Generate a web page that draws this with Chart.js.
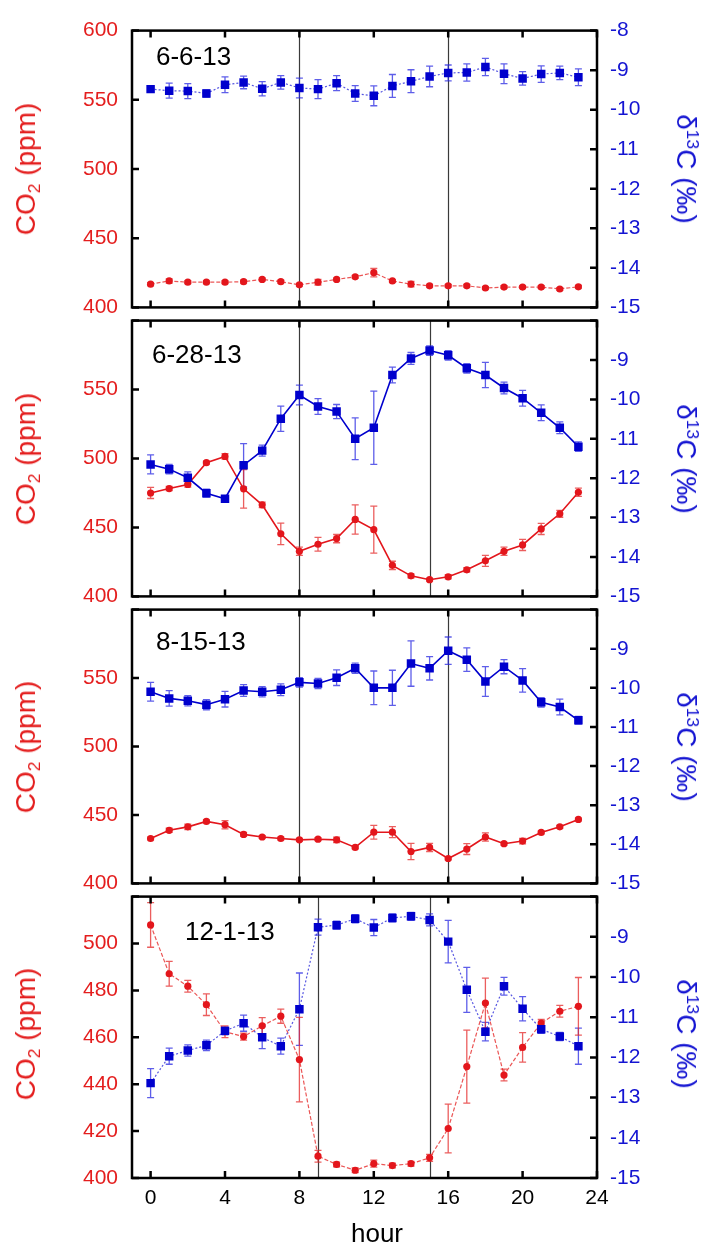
<!DOCTYPE html>
<html><head><meta charset="utf-8">
<script src="https://cdn.jsdelivr.net/npm/chart.js@4.4.1/dist/chart.umd.min.js"></script>
<style>
html,body{margin:0;padding:0;background:#fff}
#wrap{position:relative;width:713px;height:1249px;overflow:hidden;font-family:"Liberation Sans",Arial,sans-serif}
canvas{position:absolute;left:0}
.t{position:absolute;white-space:nowrap;line-height:1}
.ylab{color:#e41e1e;font-size:28px;transform:translate(-50%,-50%) rotate(-90deg)}
.rlab{color:#1414d2;font-size:28px;transform:translate(-50%,-50%) rotate(90deg)}
.sub{font-size:0.62em;position:relative;top:0.3em}
.sup{font-size:0.62em;position:relative;top:-0.6em}
.plab{font-size:26px;color:#000}
.xlab{font-size:26px;color:#000;transform:translate(-50%,0)}
</style></head><body><div id="wrap"></div>
<script>
// ---------------- DATA ----------------
const HOURS = [0,1,2,3,4,5,6,7,8,9,10,11,12,13,14,15,16,17,18,19,20,21,22,23];
const X_TICKS = [0,4,8,12,16,20,24];
const PANEL_LABELS = ['6-6-13','6-28-13','8-15-13','12-1-13'];

// 6-6-13
const co2_0606     = [416.8,419.1,418.2,418.2,418.2,418.6,420.2,418.6,416.3,418.2,420.2,422.1,425.1,419.1,416.8,415.6,415.6,415.6,414.0,414.7,414.7,414.7,413.3,414.9];
const co2Err_0606  = [1,1.5,1,1,1,1,1,1,1,2,1,1,3,1,2,1,1,1,1,1,1,1,1,1];
const d13c_0606    = [-9.48,-9.52,-9.53,-9.59,-9.37,-9.31,-9.47,-9.31,-9.45,-9.48,-9.33,-9.59,-9.65,-9.40,-9.28,-9.16,-9.07,-9.06,-8.92,-9.09,-9.21,-9.10,-9.07,-9.18];
const d13cErr_0606 = [0.05,0.19,0.19,0.09,0.2,0.16,0.18,0.17,0.25,0.24,0.19,0.2,0.25,0.29,0.29,0.26,0.2,0.22,0.22,0.25,0.17,0.21,0.17,0.21];

// 6-28-13
const co2_0628     = [475.0,478.2,481.2,497.0,501.5,478.0,466.4,445.4,432.7,437.8,441.9,455.8,448.4,422.5,414.9,412.1,414.2,419.3,425.8,432.7,437.3,448.9,459.9,475.5];
const co2Err_0628  = [4,1.5,2,1,2,14,2,7.8,3,5,3,10.6,17,3,1.5,1,1.5,1.5,4,3,4,4,2.5,3];
const d13c_0628    = [-11.65,-11.77,-11.99,-12.38,-12.52,-11.67,-11.30,-10.49,-9.89,-10.18,-10.31,-11.00,-10.72,-9.38,-8.96,-8.76,-8.88,-9.21,-9.38,-9.71,-9.97,-10.34,-10.72,-11.20];
const d13cErr_0628 = [0.24,0.12,0.15,0.1,0.06,0.55,0.14,0.32,0.25,0.2,0.18,0.53,0.93,0.2,0.15,0.12,0.12,0.12,0.32,0.15,0.2,0.2,0.15,0.12];

// 8-15-13
const co2_0815     = [432.8,438.8,441.3,445.3,442.9,435.8,433.9,432.8,431.8,432.3,431.8,426.3,437.4,437.4,423.3,426.3,418.2,425.1,433.9,429.0,430.9,437.2,441.3,446.7];
const co2Err_0815  = [1,1.5,2,1,3,1.5,1,1,1,1,2,1,5,4,6,3,1,4,3,1,2,1,1,1];
const d13c_0815    = [-10.10,-10.27,-10.33,-10.43,-10.29,-10.07,-10.10,-10.05,-9.86,-9.89,-9.74,-9.50,-10.0,-10.0,-9.38,-9.50,-9.05,-9.28,-9.84,-9.46,-9.81,-10.37,-10.49,-10.83];
const d13cErr_0815 = [0.24,0.2,0.13,0.13,0.2,0.15,0.13,0.15,0.12,0.13,0.2,0.13,0.43,0.45,0.58,0.3,0.35,0.3,0.38,0.18,0.3,0.12,0.2,0.1];

// 12-1-13
const co2_1201     = [507.9,487.1,481.8,473.9,462.4,460.3,464.9,469.0,450.5,409.3,405.8,403.3,406.1,405.3,406.1,408.6,421.1,447.5,474.6,443.9,455.7,466.1,471.1,473.2];
const co2Err_1201  = [9.5,5.3,2.5,4.6,2.5,1.5,3.5,3,18,2.5,1,1,1.5,1,1,1.5,10.4,15.6,10.6,2.5,6.3,1.5,2.5,12.3];
const d13c_1201    = [-12.64,-11.97,-11.83,-11.70,-11.34,-11.15,-11.50,-11.72,-10.80,-8.76,-8.71,-8.55,-8.77,-8.53,-8.49,-8.58,-9.12,-10.32,-11.36,-10.23,-10.79,-11.30,-11.48,-11.72];
const d13cErr_1201 = [0.36,0.2,0.14,0.13,0.1,0.2,0.28,0.2,0.9,0.2,0.1,0.1,0.2,0.1,0.1,0.15,0.53,0.56,0.23,0.22,0.3,0.1,0.1,0.45];

// vertical marker hours per panel
const vlines_0606 = [8,16];
const vlines_0628 = [8,15];
const vlines_0815 = [8,16];
const vlines_1201 = [9,15];

// axis ranges & ticks
const CO2_TICKS_A = [400,450,500,550,600];
const CO2_TICKS_B = [400,420,440,460,480,500,520];
const D13C_TICKS  = [-15,-14,-13,-12,-11,-10,-9,-8];

// ---------------- LAYOUT / STYLE ----------------
const W = 713, PLOT_L = 132, PLOT_R = 597;
const PANEL_Y = [[24,314],[314,603],[603,890],[890,1178]];
const FONT = '"Liberation Sans", Arial, sans-serif';
const RED = '#e3161c', BLUE = '#0000cd';
const RED_TXT = '#e41e1e', BLUE_TXT = '#1414d2';
const TICK_SIZE = 21;

const panels = [
  {co2:co2_0606, co2Err:co2Err_0606, d13:d13c_0606, d13Err:d13cErr_0606, vl:vlines_0606, co2Ticks:CO2_TICKS_A, style:'dash', lab:[156,43]},
  {co2:co2_0628, co2Err:co2Err_0628, d13:d13c_0628, d13Err:d13cErr_0628, vl:vlines_0628, co2Ticks:CO2_TICKS_A, style:'solid', lab:[152,341]},
  {co2:co2_0815, co2Err:co2Err_0815, d13:d13c_0815, d13Err:d13cErr_0815, vl:vlines_0815, co2Ticks:CO2_TICKS_A, style:'solid', lab:[156,628]},
  {co2:co2_1201, co2Err:co2Err_1201, d13:d13c_1201, d13Err:d13cErr_1201, vl:vlines_1201, co2Ticks:CO2_TICKS_B, style:'dash', lab:[185,918]}
];

const panelDecor = {
  id:'panelDecor',
  beforeDatasetsDraw(chart, args, opts){
    const ctx = chart.ctx, {top,bottom} = chart.chartArea, xs = chart.scales.x;
    ctx.save();
    ctx.strokeStyle = '#3a3a3a'; ctx.lineWidth = 1.2;
    (opts.vlines||[]).forEach(h=>{
      const x = Math.round(xs.getPixelForValue(h))+0.5;
      ctx.beginPath(); ctx.moveTo(x,top); ctx.lineTo(x,bottom); ctx.stroke();
    });
    chart.data.datasets.forEach(ds=>{
      const ys = chart.scales[ds.yAxisID];
      ctx.strokeStyle = ds.errColor; ctx.lineWidth = 1.3;
      ds.data.forEach((p,i)=>{
        const e = ds.errorBars[i];
        const x = xs.getPixelForValue(p.x);
        const y1 = ys.getPixelForValue(p.y - e), y2 = ys.getPixelForValue(p.y + e);
        ctx.beginPath();
        ctx.moveTo(x,y1); ctx.lineTo(x,y2);
        ctx.moveTo(x-3.5,y1); ctx.lineTo(x+3.5,y1);
        ctx.moveTo(x-3.5,y2); ctx.lineTo(x+3.5,y2);
        ctx.stroke();
      });
    });
    ctx.restore();
  },
  afterDatasetsDraw(chart){
    const ctx = chart.ctx, {left,right,top,bottom} = chart.chartArea;
    const xs = chart.scales.x, yl = chart.scales.yL, yr = chart.scales.yR;
    ctx.save();
    ctx.strokeStyle = '#000'; ctx.lineWidth = 2.5;
    ctx.strokeRect(left, top, right-left, bottom-top);
    ctx.beginPath();
    xs.ticks.forEach(t=>{
      const x = xs.getPixelForValue(t.value);
      ctx.moveTo(x,top); ctx.lineTo(x,top+7);
      ctx.moveTo(x,bottom); ctx.lineTo(x,bottom-7);
    });
    yl.ticks.forEach(t=>{ const y = yl.getPixelForValue(t.value); ctx.moveTo(left,y); ctx.lineTo(left+7,y); });
    yr.ticks.forEach(t=>{ const y = yr.getPixelForValue(t.value); ctx.moveTo(right-7,y); ctx.lineTo(right,y); });
    ctx.stroke();
    ctx.restore();
  }
};

const wrap = document.getElementById('wrap');

panels.forEach((P,i)=>{
  const [pt,pb] = PANEL_Y[i];
  const cTop = pt - 20;
  const cH = (i===3) ? 1249 - cTop : (pb - pt) + 40;
  const bottomPad = cTop + cH - pb;
  const cv = document.createElement('canvas');
  cv.width = W; cv.height = cH;
  cv.style.top = cTop+'px'; cv.style.width = W+'px'; cv.style.height = cH+'px';
  wrap.appendChild(cv);

  const dashed = P.style==='dash';
  const lw = dashed ? 1.2 : 1.6;
  const co2Min = P.co2Ticks[0], co2Max = P.co2Ticks[P.co2Ticks.length-1];

  new Chart(cv, {
    type:'line',
    data:{datasets:[
      {label:'δ13C', data:HOURS.map((h,k)=>({x:h,y:P.d13[k]})), yAxisID:'yR', errorBars:P.d13Err,
       errColor:'rgba(40,40,225,0.75)',
       borderColor: dashed ? 'rgba(30,30,215,0.75)' : BLUE, borderWidth:lw, borderDash: dashed ? [2,2] : [],
       pointStyle:'rect', pointRadius:6, pointBackgroundColor:BLUE, pointBorderColor:BLUE, pointBorderWidth:0, tension:0},
      {label:'CO2', data:HOURS.map((h,k)=>({x:h,y:P.co2[k]})), yAxisID:'yL', errorBars:P.co2Err,
       errColor:'rgba(228,40,40,0.75)',
       borderColor: dashed ? 'rgba(228,30,30,0.75)' : RED, borderWidth:lw, borderDash: dashed ? [4,2] : [],
       pointStyle:'circle', pointRadius:3.6, pointBackgroundColor:RED, pointBorderColor:RED, pointBorderWidth:0, tension:0}
    ]},
    options:{
      responsive:false, animation:false, devicePixelRatio:1,
      layout:{padding:{top:20,left:0,right:0,bottom:0}},
      plugins:{legend:{display:false}, tooltip:{enabled:false}, title:{display:false}, panelDecor:{vlines:P.vl}},
      scales:{
        x:{type:'linear', position:'bottom', min:-1, max:24,
           afterBuildTicks:a=>{a.ticks = X_TICKS.map(v=>({value:v}));},
           afterFit:a=>{a.height = bottomPad;},
           grid:{display:false, drawTicks:false}, border:{display:false},
           ticks:{display:i===3, color:'#000', font:{family:FONT,size:TICK_SIZE}, padding:8, maxRotation:0, autoSkip:false}},
        yL:{type:'linear', position:'left', min:co2Min, max:co2Max,
           afterBuildTicks:a=>{a.ticks = P.co2Ticks.map(v=>({value:v}));},
           afterFit:a=>{a.width = PLOT_L;},
           grid:{display:false, drawTicks:false}, border:{display:false},
           ticks:{color:RED_TXT, font:{family:FONT,size:TICK_SIZE}, padding:14, autoSkip:false,
                  callback:v=> (i>0 && v===co2Max) ? '' : String(v)}},
        yR:{type:'linear', position:'right', min:D13C_TICKS[0], max:D13C_TICKS[D13C_TICKS.length-1],
           afterBuildTicks:a=>{a.ticks = D13C_TICKS.map(v=>({value:v}));},
           afterFit:a=>{a.width = W - PLOT_R;},
           grid:{display:false, drawTicks:false}, border:{display:false},
           ticks:{color:BLUE_TXT, font:{family:FONT,size:TICK_SIZE}, padding:13, autoSkip:false,
                  callback:v=> (i>0 && v===D13C_TICKS[D13C_TICKS.length-1]) ? '' : String(v)}}
      }
    },
    plugins:[panelDecor]
  });

  const cy = (pt+pb)/2;
  const l = document.createElement('div');
  l.className='t ylab'; l.style.left='26px'; l.style.top=cy+'px';
  l.innerHTML='CO<span class="sub">2</span> (ppm)';
  wrap.appendChild(l);
  const r = document.createElement('div');
  r.className='t rlab'; r.style.left='686px'; r.style.top=cy+'px';
  r.innerHTML='δ<span class="sup">13</span>C (‰)';
  wrap.appendChild(r);
  const pl = document.createElement('div');
  pl.className='t plab'; pl.style.left=P.lab[0]+'px'; pl.style.top=P.lab[1]+'px';
  pl.textContent = PANEL_LABELS[i];
  wrap.appendChild(pl);
});

const xl = document.createElement('div');
xl.className='t xlab'; xl.style.left='377px'; xl.style.top='1220px';
xl.textContent='hour';
wrap.appendChild(xl);
</script></body></html>
